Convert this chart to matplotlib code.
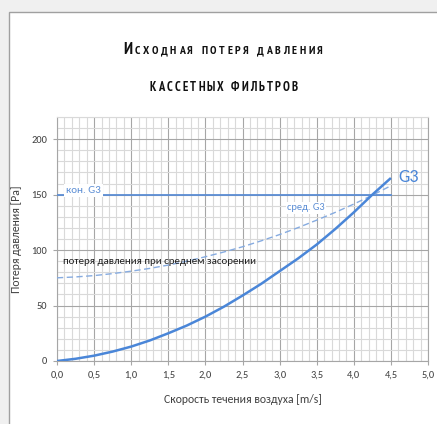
import matplotlib
matplotlib.use('Agg')
import matplotlib.pyplot as plt
from matplotlib.ticker import MultipleLocator, FuncFormatter
from matplotlib.patches import Rectangle

# ---- data ----
speed = [0.0, 0.25, 0.5, 0.75, 1.0, 1.25, 1.5, 1.75, 2.0, 2.25, 2.5, 2.75,
         3.0, 3.25, 3.5, 3.75, 4.0, 4.25, 4.5]
g3_initial = [0, 2, 4.8, 8.5, 13, 18.5, 25, 32, 40, 49, 59, 69.5,
              81, 92.5, 105, 119, 134, 150, 165]
g3_mid = [75, 75.8, 77, 78.8, 81, 83.5, 86.5, 90, 94, 98.3, 103, 108.3,
          114, 120.3, 127, 134, 141.5, 149.5, 158]
g3_final = 150
final_span = [0.0, 4.5]

x_ticks = [0.0, 0.5, 1.0, 1.5, 2.0, 2.5, 3.0, 3.5, 4.0, 4.5, 5.0]
y_ticks = [0, 50, 100, 150, 200]

title_line1 = "Исходная потеря давления"
title_line2 = "кассетных фильтров"
x_label = "Скорость течения воздуха [m/s]"
y_label = "Потеря давления [Pa]"
note_text = "потеря давления при среднем засорении"

W, H = 437, 424
fig = plt.figure(figsize=(W / 100, H / 100), dpi=100)
fig.patch.set_facecolor('#f0f0f0')
bg = Rectangle((8.5 / W, -0.1), 1.2, 1.1 - 12.5 / H,
               transform=fig.transFigure, facecolor='white',
               edgecolor='#a0a0a0', linewidth=1.0, zorder=-10)
fig.add_artist(bg)

body_font = ['Carlito', 'DejaVu Sans']
blue = '#4a86d8'
blue2 = '#5b8dd4'
blue3 = '#86abe0'
txt = '#404040'

ax = fig.add_axes([57 / W, 1 - 361 / H, (428 - 57) / W, (361 - 117) / H], zorder=1)
ax.set_facecolor('white')
ax.set_xlim(0, 5)
ax.set_ylim(0, 220)
ax.xaxis.set_minor_locator(MultipleLocator(0.1))
ax.yaxis.set_minor_locator(MultipleLocator(10))
ax.set_xticks(x_ticks)
ax.set_yticks(y_ticks)
ax.xaxis.set_major_formatter(FuncFormatter(lambda v, p: f"{v:.1f}".replace('.', ',')))
ax.yaxis.set_major_formatter(FuncFormatter(lambda v, p: f"{int(v)}"))
ax.grid(which='minor', color='#d9d9d9', linewidth=0.8)
ax.grid(which='major', color='#a6a6a6', linewidth=0.8)
ax.set_axisbelow(True)
for s in ax.spines.values():
    s.set_color('#a6a6a6')
    s.set_linewidth(0.8)
ax.spines['top'].set_color('#d9d9d9')
ax.tick_params(which='major', length=3, color='#a6a6a6', labelsize=7.5,
               labelcolor=txt, pad=4)
ax.tick_params(which='minor', length=0)
for lab in ax.get_xticklabels() + ax.get_yticklabels():
    lab.set_family(body_font)

ax.plot(final_span, [g3_final, g3_final], color=blue2, lw=1.3, zorder=3)
ax.plot(speed, g3_mid, color=blue3, lw=1.0, ls=(0, (4.5, 2.5)), zorder=3)
ax.plot(speed, g3_initial, color=blue, lw=1.8, zorder=4, solid_capstyle='butt')

ax.text(0.36, 153.5, "кон. G3", color=blue2, fontsize=8, family=body_font,
        ha='center', va='center',
        bbox=dict(facecolor='white', edgecolor='none', pad=1.3), zorder=5)
ax.text(3.36, 138, "сред. G3", color=blue2, fontsize=7.5, family=body_font,
        ha='center', va='center',
        bbox=dict(facecolor='white', edgecolor='none', pad=0.8), zorder=5)
ax.text(4.6, 166, "G3", color=blue, fontsize=13, family=body_font,
        ha='left', va='center', zorder=5, clip_on=False)
ax.text(0.08, 90, note_text, color='#202020', fontsize=7.8, family=body_font,
        ha='left', va='center', zorder=5)

ax.set_xlabel(x_label, fontsize=8.5, family=body_font, color=txt, labelpad=10)
ax.set_ylabel(y_label, fontsize=8.5, family=body_font, color=txt, labelpad=7)

# ---- letter-spaced small-caps title ----
title_font = ['PT Sans Narrow', 'DejaVu Sans']
renderer = fig.canvas.get_renderer()


def spaced(text, big_first, base_y_px, target_left, target_right, small=7.0, big=10.0):
    chars = list(text.upper())
    sizes = [big if (i == 0 and big_first) else small for i in range(len(chars))]
    objs = []
    widths = []
    for ch, sz in zip(chars, sizes):
        t = fig.text(0, 1 - base_y_px / H, ch, fontsize=sz, family=title_font,
                     weight='bold', color='#111111', va='baseline', ha='left')
        w = t.get_window_extent(renderer).width if ch != ' ' else sz * 0.35
        objs.append(t)
        widths.append(w)
    natural = sum(widths)
    gap = (target_right - target_left - natural) / (len(chars) - 1)
    x = target_left
    for t, w in zip(objs, widths):
        t.set_x(x / W)
        x += w + gap


spaced(title_line1, True, 54, 123, 323, small=8.5, big=12)
spaced(title_line2, False, 91, 150, 298, small=9)

fig.savefig('out.png', dpi=100, facecolor=fig.get_facecolor())
